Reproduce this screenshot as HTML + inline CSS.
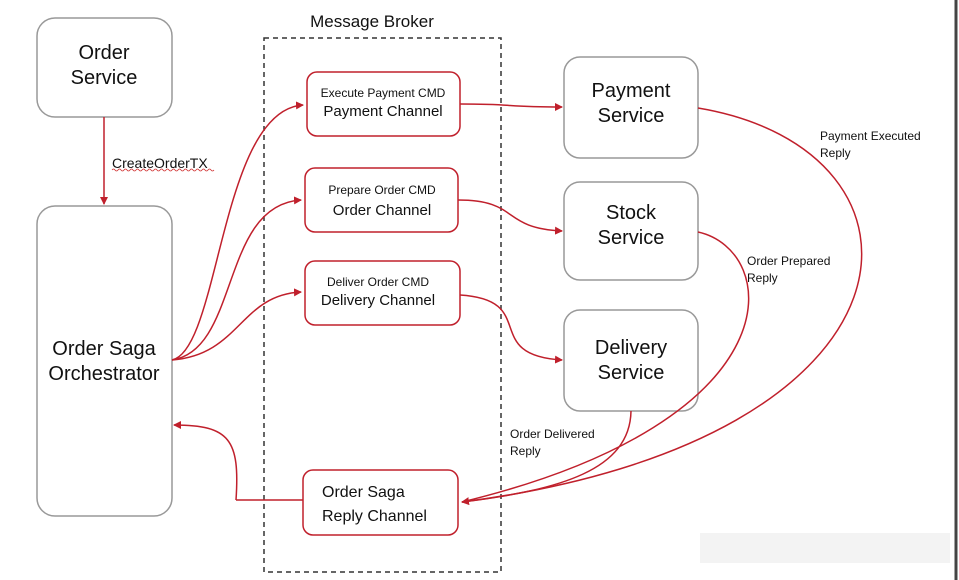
<!DOCTYPE html>
<html><head><meta charset="utf-8"><style>
html,body{margin:0;padding:0;background:#fff;}
svg{display:block;font-family:"Liberation Sans",sans-serif;}
</style></head><body>
<svg width="959" height="580" viewBox="0 0 959 580" xmlns="http://www.w3.org/2000/svg">
<defs><marker id="a" markerWidth="8" markerHeight="8" refX="7" refY="4" orient="auto" markerUnits="userSpaceOnUse"><path d="M0,0 L8,4 L0,8 z" fill="#c0202c"/></marker></defs>
<rect x="0" y="0" width="959" height="580" fill="#fff"/>
<line x1="956" y1="0" x2="956" y2="580" stroke="#444" stroke-width="3"/>
<g fill="#fff" stroke="#999" stroke-width="1.5">
<rect x="37" y="18" width="135" height="99" rx="18"/>
<rect x="37" y="206" width="135" height="310" rx="18"/>
<rect x="564" y="57" width="134" height="101" rx="16"/>
<rect x="564" y="182" width="134" height="98" rx="16"/>
<rect x="564" y="310" width="134" height="101" rx="16"/>
</g>
<rect x="264" y="38" width="237" height="534" fill="none" stroke="#333" stroke-width="1.5" stroke-dasharray="5,4"/>
<g fill="#fff" stroke="#c0202c" stroke-width="1.5">
<rect x="307" y="72" width="153" height="64" rx="10"/>
<rect x="305" y="168" width="153" height="64" rx="10"/>
<rect x="305" y="261" width="155" height="64" rx="10"/>
<rect x="303" y="470" width="155" height="65" rx="10"/>
</g>
<g fill="none" stroke="#c0202c" stroke-width="1.5">
<line x1="104" y1="117" x2="104" y2="204" marker-end="url(#a)"/>
<path d="M172,360 C220,350 220,110 303,105" marker-end="url(#a)"/>
<path d="M172,360 C240,350 220,205 301,200" marker-end="url(#a)"/>
<path d="M172,360 C240,355 240,295 301,292" marker-end="url(#a)"/>
<path d="M460,104 C520,104 500,107 562,107" marker-end="url(#a)"/>
<path d="M458,200 C520,200 500,228 562,231" marker-end="url(#a)"/>
<path d="M460,295 C540,300 480,355 562,360" marker-end="url(#a)"/>
<path d="M698,108 C950,150 940,440 462,502" marker-end="url(#a)"/>
<path d="M698,232 C780,250 800,420 462,502"/>
<path d="M631,411 C630,470 560,490 462,502"/>
<path d="M236,500 C240,440 230,425 174,425" marker-end="url(#a)"/>
<line x1="303" y1="500" x2="236" y2="500"/>
</g>
<path d="M112,170 q1.5,-2 3,0 t3,0 t3,0 t3,0 t3,0 t3,0 t3,0 t3,0 t3,0 t3,0 t3,0 t3,0 t3,0 t3,0 t3,0 t3,0 t3,0 t3,0 t3,0 t3,0 t3,0 t3,0 t3,0 t3,0 t3,0 t3,0 t3,0 t3,0 t3,0 t3,0 t3,0 t3,0 t3,0 t3,0" fill="none" stroke="#d03030" stroke-width="0.8"/>
<g fill="#111" text-anchor="middle">
<text x="372" y="27" font-size="17">Message Broker</text>
<text x="104" y="59" font-size="20">Order</text>
<text x="104" y="84" font-size="20">Service</text>
<text x="104" y="355" font-size="20">Order Saga</text>
<text x="104" y="380" font-size="20">Orchestrator</text>
<text x="631" y="97" font-size="20">Payment</text>
<text x="631" y="122" font-size="20">Service</text>
<text x="631" y="219" font-size="20">Stock</text>
<text x="631" y="244" font-size="20">Service</text>
<text x="631" y="354" font-size="20">Delivery</text>
<text x="631" y="379" font-size="20">Service</text>
<text x="383" y="97" font-size="12">Execute Payment CMD</text>
<text x="383" y="116" font-size="15">Payment Channel</text>
<text x="382" y="194" font-size="12">Prepare Order CMD</text>
<text x="382" y="215" font-size="15">Order Channel</text>
<text x="378" y="286" font-size="12">Deliver Order CMD</text>
<text x="378" y="305" font-size="15">Delivery Channel</text>
</g>
<g fill="#111" font-size="16">
<text x="322" y="497">Order Saga</text>
<text x="322" y="521">Reply Channel</text>
</g>
<g fill="#111" font-size="12">
<text x="112" y="168" font-size="14">CreateOrderTX</text>
<text x="820" y="140">Payment Executed</text>
<text x="820" y="157">Reply</text>
<text x="747" y="265">Order Prepared</text>
<text x="747" y="282">Reply</text>
<text x="510" y="438">Order Delivered</text>
<text x="510" y="455">Reply</text>
</g>
<rect x="700" y="533" width="250" height="30" fill="#eee" opacity="0.7"/>
</svg>
</body></html>
